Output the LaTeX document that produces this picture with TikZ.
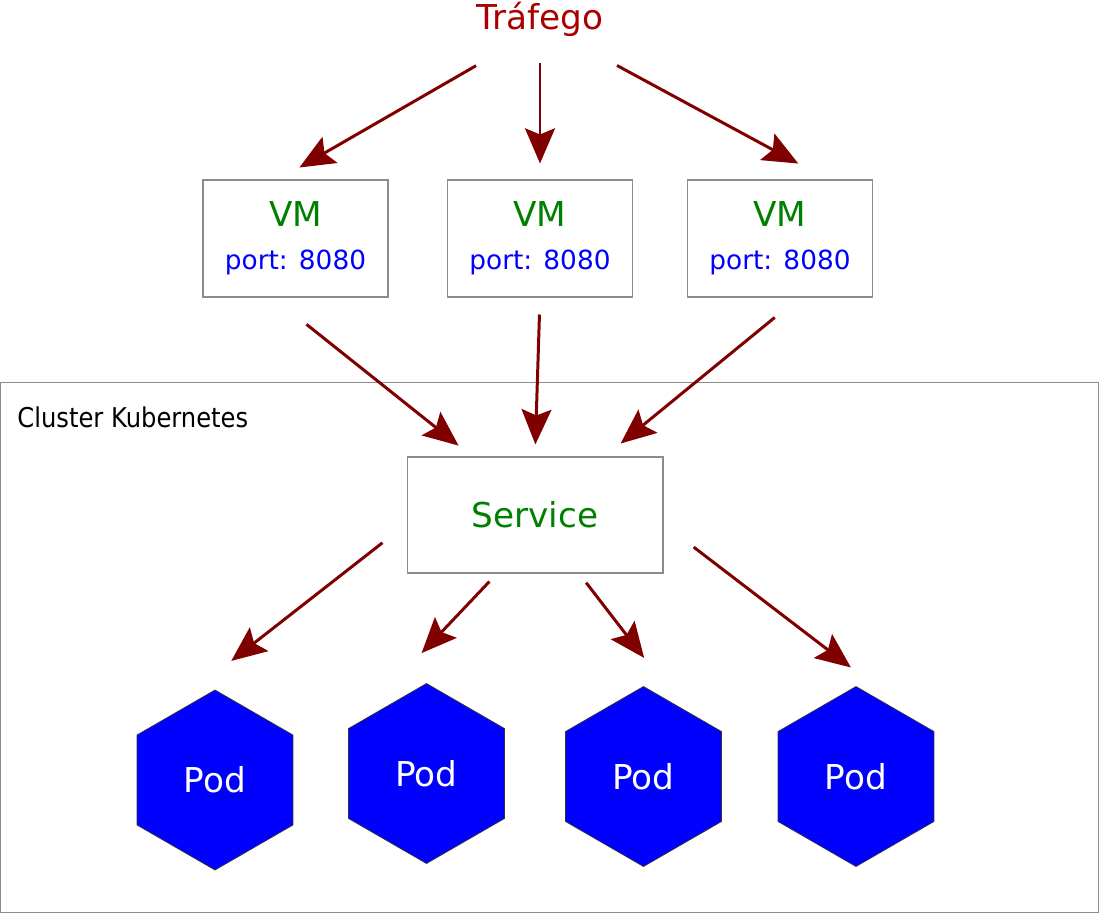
\documentclass[tikz,border=0pt]{standalone}
\usepackage{fontspec}
\setmainfont{DejaVu Sans}
\newfontfamily\clusterfont[FakeStretch=0.89]{DejaVu Sans}
\usetikzlibrary{arrows.meta, positioning, shapes.geometric}

\definecolor{trafred}{RGB}{170,0,0}
\definecolor{arrowred}{RGB}{128,0,0}
\definecolor{vmgreen}{RGB}{0,128,0}
\definecolor{boxgray}{RGB}{140,140,140}

\begin{document}
\begin{tikzpicture}[
    x=0.02cm, y=-0.02cm,
    arrow/.style={-{Stealth[length=20pt, width=17pt, inset=3.5pt]}, line width=1.7pt, draw=arrowred},
    vmbox/.style={rectangle, draw=boxgray, line width=0.6pt, minimum width=3.7cm, minimum height=2.34cm, align=center, font=\fontsize{15}{24.5}\selectfont},
    svcbox/.style={rectangle, draw=boxgray, line width=0.6pt, minimum width=5.12cm, minimum height=2.32cm, text=vmgreen, font=\fontsize{19.5}{23}\selectfont},
    pod/.style={regular polygon, regular polygon sides=6, shape border rotate=30, minimum size=3.6cm, inner sep=0pt, fill=blue, draw=black!80, line width=0.4pt, text=white, font=\fontsize{19.5}{23}\selectfont},
    cluster/.style={rectangle, draw=boxgray, line width=0.6pt, minimum width=21.98cm, minimum height=10.62cm}
]
\useasboundingbox (0,0) rectangle (1100,914);

% cluster frame
\node[cluster] (k8s) at (549.5,647.5) {};
\node[anchor=base west, inner sep=0pt, font=\clusterfont\fontsize{15.5}{18}\selectfont] (k8slabel) at (17,427) {Cluster Kubernetes};

% traffic and VMs
\node[anchor=base, inner sep=0pt, text=trafred, font=\fontsize{19.5}{23}\selectfont] (traf) at (540,29) {Tráfego};
\node[vmbox] (vm1) at (295.5,238.5) {{\fontsize{19.5}{23}\selectfont\textcolor{vmgreen}{VM}}\\\textcolor{blue}{port: 8080}};
\node[vmbox] (vm2) at (540,238.5) {{\fontsize{19.5}{23}\selectfont\textcolor{vmgreen}{VM}}\\\textcolor{blue}{port: 8080}};
\node[vmbox] (vm3) at (780,238.5) {{\fontsize{19.5}{23}\selectfont\textcolor{vmgreen}{VM}}\\\textcolor{blue}{port: 8080}};

% service and pods
\node[svcbox] (svc) at (535,515) {Service};
\node[pod] (pod1) at (215,780) {Pod};
\node[pod] (pod2) at (426.5,773.5) {Pod};
\node[pod] (pod3) at (643.5,776.5) {Pod};
\node[pod] (pod4) at (856,776.5) {Pod};

\draw[arrow, shorten <=1.17cm, shorten >=0.48cm] (traf.233) -- (vm1.106);
\draw[arrow, shorten <=0.54cm, shorten >=0.32cm] (traf.south) -- (vm2.north);
\draw[arrow, shorten <=1.22cm, shorten >=0.67cm] (traf.323) -- (vm3.51);

\draw[arrow, shorten <=0.86cm, shorten >=0.35cm] (vm1.249) -- (svc.137);
\draw[arrow, shorten <=0.34cm, shorten >=0.24cm] (vm2.south) -- (svc.north);
\draw[arrow, shorten <=0.63cm, shorten >=0.41cm] (vm3.288) -- (svc.40);

\draw[arrow, shorten <=0.61cm, shorten >=2.4cm] (svc.184) -- (pod1.150);
\draw[arrow, shorten <=0.22cm, shorten >=2.0cm] (svc.237) -- (pod2.147);
\draw[arrow, shorten <=0.23cm, shorten >=1.3cm] (svc.307) -- (pod3.59);
\draw[arrow, shorten <=0.76cm, shorten >=2.1cm] (svc.356) -- (pod4.30);
\end{tikzpicture}
\end{document}
